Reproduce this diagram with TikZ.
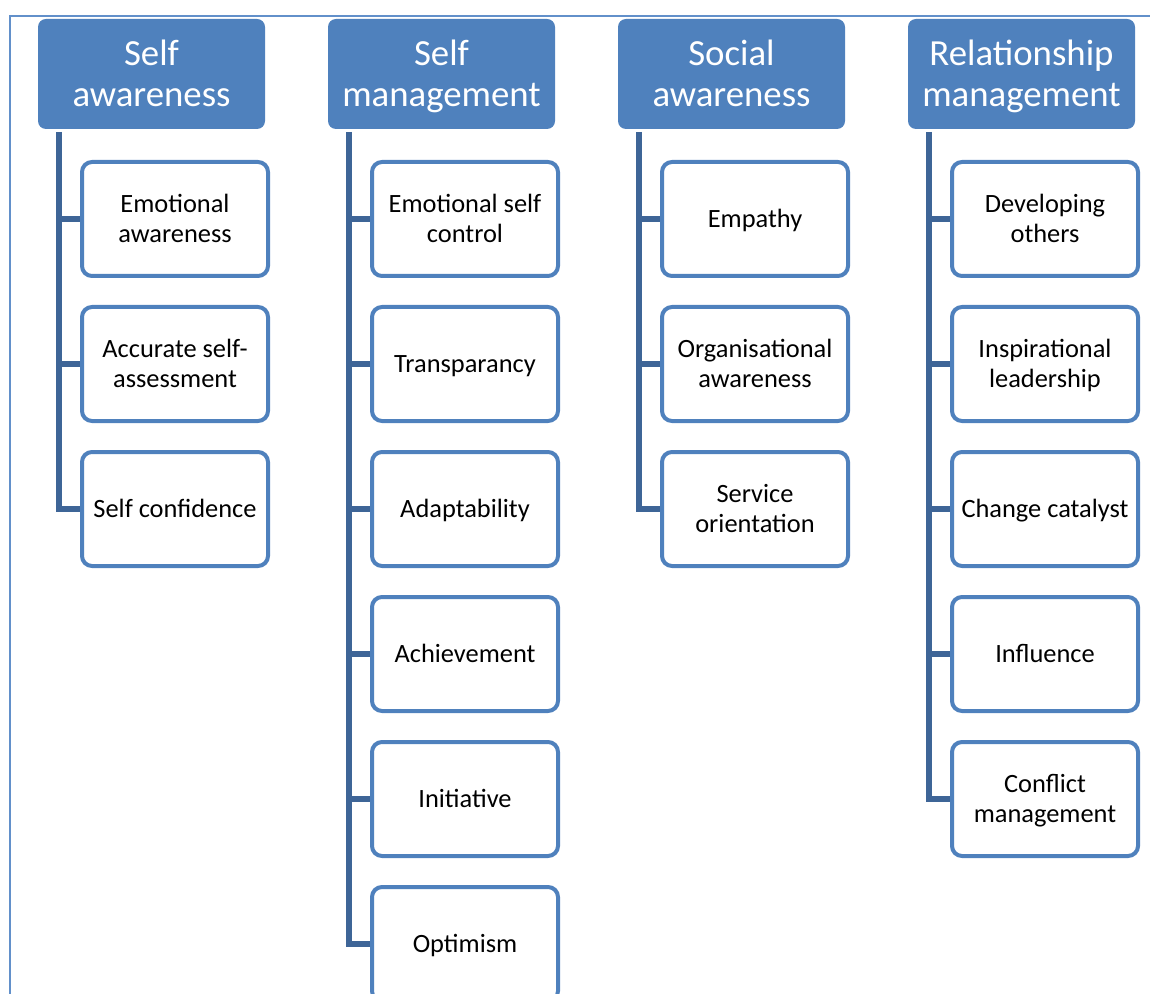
\documentclass[tikz,border=0pt]{standalone}
\usepackage{fontspec}
\setmainfont{Carlito}
\usetikzlibrary{positioning}

\definecolor{hdblue}{RGB}{79,129,189}
\definecolor{lnblue}{RGB}{62,101,151}
\definecolor{frblue}{RGB}{98,144,202}

\begin{document}
\begin{tikzpicture}[
  x=1pt, y=1pt,
  % text box runs from the cap line of the first row to the last baseline
  head/.style={rectangle, rounded corners=4pt, fill=hdblue, text=white,
               minimum width=113.5pt, minimum height=55pt, inner sep=0pt,
               outer sep=0pt, align=center, text height=32.1pt, text depth=0pt,
               font=\fontsize{18.4}{20.5}\selectfont},
  item/.style={rectangle, rounded corners=5pt, draw=hdblue, fill=white,
               line width=2pt, minimum width=93pt, minimum height=57pt,
               inner sep=0pt, align=center, text height=23.3pt, text depth=0pt,
               font=\fontsize{13.2}{15}\selectfont},
  short/.style={text height=8.3pt},
  link/.style={line width=2.75pt, lnblue},
  frame/.style={line width=0.6pt, frblue},
]
\useasboundingbox (0,0) rectangle (575,-497);

% Thin frame along the top and left edges
\draw[frame] (5,-497) |- (575,-8);

% Headers in one row
\node[head, anchor=north west] (SA) at (19,-9.5) {Self\\awareness};
\node[head, right=31.5pt of SA] (SM) {Self\\management};
\node[head, right=31.5pt of SM] (SO) {Social\\awareness};
\node[head, right=31.5pt of SO] (RM) {Relationship\\management};

% Self awareness
\node[item, below right=15.5pt and 21pt of SA.south west] (SA1) {Emotional\\awareness};
\node[item, below=13.5pt of SA1] (SA2) {Accurate self-\\assessment};
\node[item, short, below=13.5pt of SA2] (SA3) {Self confidence};

% Self management
\node[item, below right=15.5pt and 21pt of SM.south west] (SM1) {Emotional self\\control};
\node[item, short, below=13.5pt of SM1] (SM2) {Transparancy};
\node[item, short, below=13.5pt of SM2] (SM3) {Adaptability};
\node[item, short, below=13.5pt of SM3] (SM4) {Achievement};
\node[item, short, below=13.5pt of SM4] (SM5) {Initiative};
\node[item, short, below=13.5pt of SM5] (SM6) {Optimism};

% Social awareness
\node[item, short, below right=15.5pt and 21pt of SO.south west] (SO1) {Empathy};
\node[item, below=13.5pt of SO1] (SO2) {Organisational\\awareness};
\node[item, below=13.5pt of SO2] (SO3) {Service\\orientation};

% Relationship management
\node[item, below right=15.5pt and 21pt of RM.south west] (RM1) {Developing\\others};
\node[item, below=13.5pt of RM1] (RM2) {Inspirational\\leadership};
\node[item, short, below=13.5pt of RM2] (RM3) {Change catalyst};
\node[item, short, below=13.5pt of RM3] (RM4) {Influence};
\node[item, below=13.5pt of RM4] (RM5) {Conflict\\management};

% Spines under each header
\coordinate[below right=1.5pt and 10.5pt of SA.south west] (sa);
\coordinate[below right=1.5pt and 10.5pt of SM.south west] (sm);
\coordinate[below right=1.5pt and 10.5pt of SO.south west] (so);
\coordinate[below right=1.5pt and 10.5pt of RM.south west] (rm);

\draw[link] (sa) |- (SA3.west);
\draw[link] (sm) |- (SM6.west);
\draw[link] (so) |- (SO3.west);
\draw[link] (rm) |- (RM5.west);

% Branches
\foreach \c in {SA1,SA2} \draw[link] (sa |- \c.west) -- (\c.west);
\foreach \c in {SM1,SM2,SM3,SM4,SM5} \draw[link] (sm |- \c.west) -- (\c.west);
\foreach \c in {SO1,SO2} \draw[link] (so |- \c.west) -- (\c.west);
\foreach \c in {RM1,RM2,RM3,RM4} \draw[link] (rm |- \c.west) -- (\c.west);

\end{tikzpicture}
\end{document}
